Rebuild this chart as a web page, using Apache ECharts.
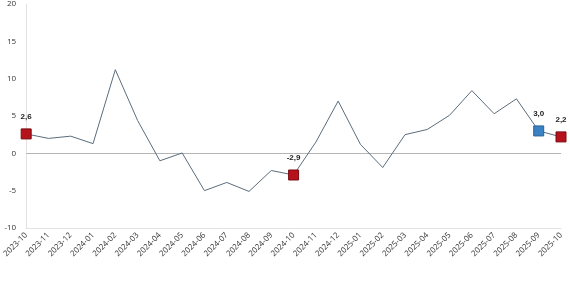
<!DOCTYPE html>
<html>
<head>
<meta charset="utf-8">
<script src="https://cdn.jsdelivr.net/npm/echarts@6/dist/echarts.min.js"></script>
<style>
  html, body { margin: 0; padding: 0; background: #fff; }
  #chart { width: 570px; height: 285px; }
</style>
</head>
<body>
<div id="chart"></div>
<script>
const months = ["2023-10","2023-11","2023-12","2024-01","2024-02","2024-03","2024-04","2024-05","2024-06","2024-07","2024-08","2024-09","2024-10","2024-11","2024-12","2025-01","2025-02","2025-03","2025-04","2025-05","2025-06","2025-07","2025-08","2025-09","2025-10"];
const values = [2.6, 2.0, 2.3, 1.3, 11.2, 4.4, -1.0, 0.05, -5.0, -3.9, -5.1, -2.3, -2.9, 1.5, 7.0, 1.2, -1.9, 2.5, 3.2, 5.1, 8.4, 5.3, 7.3, 3.0, 2.2];
// highlighted points: index -> colour
const redIdx = [0, 12, 24];
const blueIdx = [23];

const red = '#b5121b';
const blue = '#3a82c4';

const chart = echarts.init(document.getElementById('chart'));

const seriesData = values.map((v, i) => {
    const isRed = redIdx.includes(i);
    const isBlue = blueIdx.includes(i);
    if (!isRed && !isBlue) return { value: v, symbol: 'none' };
    const c = isRed ? red : blue;
    return {
        value: v,
        symbol: 'rect',
        symbolSize: 10,
        itemStyle: { color: c, borderColor: isRed ? '#7a0c12' : '#2a6196', borderWidth: 1 },
        label: {
            show: true,
            position: 'top',
            distance: 8,
            fontSize: 8,
            fontWeight: 'bold',
            color: '#222',
            formatter: p => p.value.toFixed(1).replace('.', ',')
        }
    };
});

const option = {
    animation: false,
    grid: { left: 24, right: 9, top: 3, bottom: 57, containLabel: false },
    xAxis: {
        type: 'category',
        data: months,
        boundaryGap: false,
        axisLine: { show: true, onZero: false, lineStyle: { color: '#e2e2e2' } },
        axisTick: { show: false },
        axisLabel: { rotate: 45, fontSize: 8, color: '#333', fontFamily: 'Open Sans', margin: 6, interval: 0 }
    },
    yAxis: {
        type: 'value',
        min: -10,
        max: 20,
        interval: 5,
        axisLine: { show: true, lineStyle: { color: '#e2e2e2' } },
        axisTick: { show: false },
        splitLine: { show: false },
        axisLabel: { fontSize: 8, color: '#333', fontFamily: 'Open Sans', margin: 10 }
    },
    series: [{
        type: 'line',
        data: seriesData,
        lineStyle: { color: '#5b6c7b', width: 1 },
        itemStyle: { color: '#5b6c7b' },
        z: 3,
        markLine: {
            silent: true,
            symbol: 'none',
            label: { show: false },
            lineStyle: { color: '#b5b5b5', type: 'solid', width: 1 },
            data: [{ yAxis: 0 }],
            z: 1
        }
    }]
};

chart.setOption(option);
</script>
</body>
</html>
